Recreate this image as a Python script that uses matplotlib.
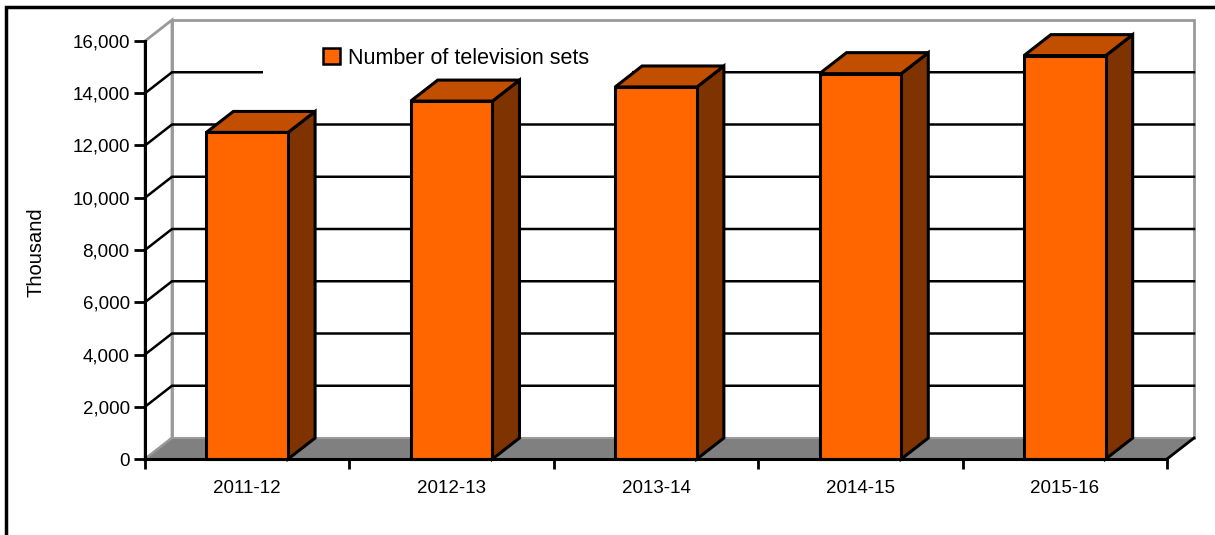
import matplotlib.pyplot as plt
from matplotlib.patches import Polygon, Rectangle, Patch
from matplotlib.ticker import FuncFormatter

# data (thousand sets)
years = ["2011-12", "2012-13", "2013-14", "2014-15", "2015-16"]
tv_sets = [12500, 13700, 14240, 14750, 15440]
series_name = "Number of television sets"
y_ticks = [0, 2000, 4000, 6000, 8000, 10000, 12000, 14000, 16000]

FRONT = "#FF6600"
TOP = "#C24E00"
SIDE = "#7F3300"
WALL_EDGE = "#999999"
FLOOR = "#808080"

plt.rcParams["font.family"] = ["Liberation Sans", "DejaVu Sans"]

W, H = 1215, 535
fig = plt.figure(figsize=(W / 100, H / 100), dpi=100)

# front plane of the fake 3d box, in pixels
x0, x1, ytop, ybot = 145, 1167, 41, 459
ax = fig.add_axes([x0 / W, 1 - ybot / H, (x1 - x0) / W, (ybot - ytop) / H])
ymax = y_ticks[-1]
n = len(years)
ax.set_xlim(0, n)
ax.set_ylim(0, ymax)
ax.patch.set_visible(False)

# depth of the 3d effect, pixels -> data units
dx = 27 / ((x1 - x0) / n)
dy = 21 / ((ybot - ytop) / ymax)

# back wall, side wall and floor
ax.add_patch(Rectangle((dx, dy), n, ymax, facecolor="white", edgecolor=WALL_EDGE,
                       lw=2, clip_on=False, zorder=0.5))
ax.add_patch(Polygon([(0, 0), (dx, dy), (dx, ymax + dy), (0, ymax)], closed=True,
                     facecolor="white", edgecolor=WALL_EDGE, lw=2, clip_on=False, zorder=0.5))
ax.add_patch(Polygon([(0, 0), (n, 0), (n + dx, dy), (dx, dy)], closed=True,
                     facecolor=FLOOR, edgecolor=WALL_EDGE, lw=1.5, clip_on=False, zorder=0.6))
ax.plot([n, n + dx], [0, dy], color="black", lw=2, clip_on=False, zorder=0.7)

# gridlines on the side and back walls
for v in y_ticks[1:-1]:
    ax.plot([0, dx, n + dx], [v, v + dy, v + dy], color="black", lw=1.8,
            clip_on=False, zorder=1, solid_joinstyle="miter")

# white legend background hides part of the gridline
ax.add_patch(Rectangle((263 / W, 1 - 79 / H), (632 - 263) / W, 40 / H, transform=fig.transFigure,
                       facecolor="white", edgecolor="none", clip_on=False, zorder=1.5))

# bars: front, top and side faces
hw = 0.2
for i, v in enumerate(tv_sets):
    c = i + 0.5
    l, r = c - hw, c + hw
    kw = dict(edgecolor="black", lw=2.2, clip_on=False, zorder=3, joinstyle="miter")
    ax.add_patch(Polygon([(r, 0), (r + dx, dy), (r + dx, v + dy), (r, v)], closed=True,
                         facecolor=SIDE, **kw))
    ax.add_patch(Polygon([(l, v), (r, v), (r + dx, v + dy), (l + dx, v + dy)], closed=True,
                         facecolor=TOP, **kw))
    ax.add_patch(Rectangle((l, 0), 2 * hw, v, facecolor=FRONT, **kw))

# axes
for s in ["top", "right"]:
    ax.spines[s].set_visible(False)
for s in ["left", "bottom"]:
    ax.spines[s].set_linewidth(2.2)
    ax.spines[s].set_zorder(4)

ax.set_yticks(y_ticks)
ax.yaxis.set_major_formatter(FuncFormatter(lambda v, p: f"{v:,.0f}"))
ax.tick_params(axis="y", length=8, width=2, pad=3, labelsize=13.5)

ax.set_xticks(range(n + 1))
ax.set_xticklabels([])
ax.set_xticks([i + 0.5 for i in range(n)], minor=True)
ax.set_xticklabels(years, minor=True)
ax.tick_params(axis="x", which="major", length=7, width=2)
ax.tick_params(axis="x", which="minor", length=0, pad=15, labelsize=13.5)

fig.text(36 / W, 1 - 252 / H, "Thousand", rotation=90, ha="center", va="center", fontsize=14.5)

leg = ax.legend(handles=[Patch(facecolor=FRONT, edgecolor="black", lw=1.8, label=series_name)],
                loc="center left", bbox_to_anchor=(323 / W, 1 - 58 / H),
                bbox_transform=fig.transFigure, frameon=False, borderpad=0, borderaxespad=0,
                handlelength=0.8, handleheight=0.8, handletextpad=0.35, fontsize=15.5)
leg.set_zorder(5)

# outer chart border (right and bottom edges run off the picture)
fig.add_artist(Rectangle((6 / W, -0.05), 1.1, 1 - 7 / H + 0.05, transform=fig.transFigure,
                         facecolor="none", edgecolor="black", lw=2.5))

fig.savefig("out.png", dpi=100)
